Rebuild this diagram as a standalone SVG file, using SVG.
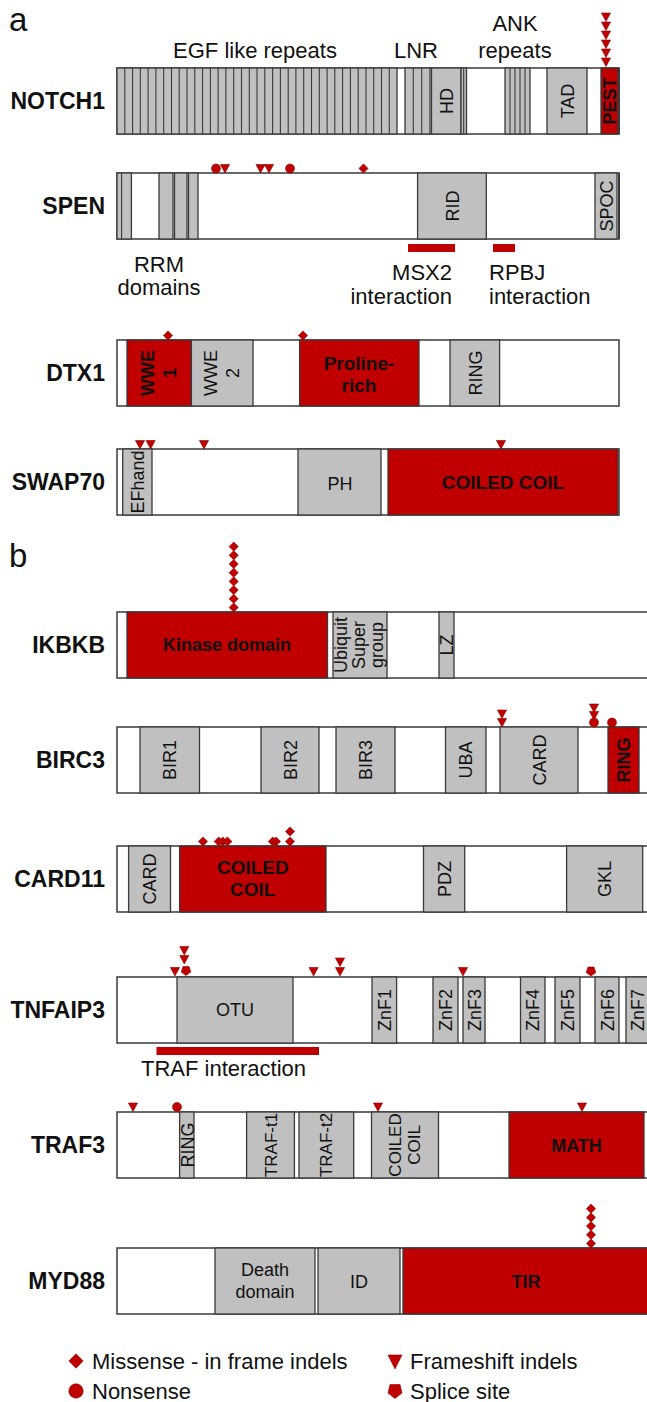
<svg xmlns="http://www.w3.org/2000/svg" xmlns:xlink="http://www.w3.org/1999/xlink" width="647" height="1402" viewBox="0 0 647 1402">
<style>
.bar{fill:#fff;stroke:#3a3a3a;stroke-width:1.5}
.g{fill:#c0c0c0;stroke:#3a3a3a;stroke-width:1.3}
.r{fill:#c00000;stroke:#3a3a3a;stroke-width:1.3}
.ln{fill:none;stroke:#3a3a3a;stroke-width:1.1}
.ib{fill:#c00000}
.m{fill:#c00000;stroke:#8a0000;stroke-width:0.6}
text{font-family:"Liberation Sans",Arial,sans-serif;fill:#111}
.lbl{font-size:23px;font-weight:bold;text-anchor:end}
.t{font-size:22px}
.d{font-size:18px}
.db{font-size:18px;font-weight:bold}
.pn{font-size:33px}
</style>
<defs>
<path id="dia" class="m" d="M0,-4.6L4.6,0L0,4.6L-4.6,0Z"/>
<path id="tri" class="m" d="M-4.6,0L4.6,0L0,8.5Z"/>
<circle id="cir" class="m" r="4.5"/>
<path id="pen" class="m" d="M0,5L4.8,1.5L3,-4L-3,-4L-4.8,1.5Z"/>
<path id="diaL" class="m" d="M0,-7.2L7.2,0L0,7.2L-7.2,0Z"/>
<path id="triL" class="m" d="M-7,-6L7,-6L0,8Z"/>
<circle id="cirL" class="m" r="7.2"/>
<path id="penL" class="m" d="M0,7.5L7,2L5,-6.5L-5,-6.5L-7,2Z"/>
</defs>
<rect width="647" height="1402" fill="#fff"/>

<text class="pn" x="9" y="31">a</text>
<text class="pn" x="9" y="567">b</text>

<g id="connectors"></g>

<!-- NOTCH1 -->
<g id="notch1">
<text class="lbl" x="105" y="109">NOTCH1</text>
<text class="t" x="255" y="58" text-anchor="middle">EGF like repeats</text>
<text class="t" x="416" y="58" text-anchor="middle">LNR</text>
<text class="t" x="515" y="31" text-anchor="middle">ANK</text>
<text class="t" x="515" y="58" text-anchor="middle">repeats</text>
<rect class="bar" x="117" y="68" width="502" height="66"/>
<rect class="g" x="117" y="68" width="280" height="66"/>
<path class="ln" d="M124.8 68V134M132.6 68V134M140.3 68V134M148.1 68V134M155.9 68V134M163.7 68V134M171.5 68V134M179.2 68V134M187 68V134M194.8 68V134M202.6 68V134M210.4 68V134M218.1 68V134M225.9 68V134M233.7 68V134M241.5 68V134M249.3 68V134M257 68V134M264.8 68V134M272.6 68V134M280.4 68V134M288.2 68V134M295.9 68V134M303.7 68V134M311.5 68V134M319.3 68V134M327.1 68V134M334.8 68V134M342.6 68V134M350.4 68V134M358.2 68V134M366 68V134M373.7 68V134M381.5 68V134M389.3 68V134"/>
<rect class="g" x="405" y="68" width="25" height="66"/>
<path class="ln" d="M413.3 68V134M421.7 68V134"/>
<rect class="g" x="431.5" y="68" width="29.5" height="66"/>
<rect class="g" x="461" y="68" width="5.5" height="66"/>
<path class="ln" d="M463.7 68V134"/>
<rect class="g" x="505" y="68" width="25" height="66"/>
<path class="ln" d="M510 68V134M515 68V134M520 68V134M525 68V134"/>
<rect class="g" x="547" y="68" width="40" height="66"/>
<rect class="r" x="601" y="68" width="17" height="66"/>
<path class="ln" d="M619 68V134" style="stroke-width:2"/>
<text class="d" text-anchor="middle" transform="translate(446,101) rotate(-90)" y="6.5">HD</text>
<text class="d" text-anchor="middle" transform="translate(567,101) rotate(-90)" y="6.5">TAD</text>
<text class="db" text-anchor="middle" transform="translate(609.5,101) rotate(-90)" y="6.5">PEST</text>
<use xlink:href="#tri" x="606" y="13"/>
<use xlink:href="#tri" x="606" y="22"/>
<use xlink:href="#tri" x="606" y="31"/>
<use xlink:href="#tri" x="606" y="40"/>
<use xlink:href="#tri" x="606" y="49"/>
<use xlink:href="#tri" x="606" y="58"/>
</g>

<!-- SPEN -->
<g id="spen">
<text class="lbl" x="105" y="214">SPEN</text>
<rect class="bar" x="117" y="173" width="502" height="66"/>
<rect class="g" x="117" y="173" width="14.4" height="66"/>
<path class="ln" d="M121.6 173V239"/>
<rect class="g" x="159" y="173" width="14" height="66"/>
<rect class="g" x="174.5" y="173" width="12.5" height="66"/>
<rect class="g" x="188.5" y="173" width="9.5" height="66"/>
<rect class="g" x="417.6" y="173" width="68.7" height="66"/>
<rect class="g" x="595" y="173" width="22" height="66"/>
<path class="ln" d="M619 173V239" style="stroke-width:2"/>
<text class="d" text-anchor="middle" transform="translate(452,206) rotate(-90)" y="6.5">RID</text>
<text class="d" text-anchor="middle" transform="translate(606,206) rotate(-90)" y="6.5">SPOC</text>
<rect class="ib" x="408" y="244" width="47" height="8"/>
<rect class="ib" x="493" y="244" width="22" height="8"/>
<text class="t" x="159" y="272" text-anchor="middle">RRM</text>
<text class="t" x="159" y="295" text-anchor="middle">domains</text>
<text class="t" x="452" y="280" text-anchor="end">MSX2</text>
<text class="t" x="452" y="304" text-anchor="end">interaction</text>
<text class="t" x="489" y="280">RPBJ</text>
<text class="t" x="489" y="304">interaction</text>
<use xlink:href="#cir" x="216" y="168.5"/>
<use xlink:href="#tri" x="225" y="164.5"/>
<use xlink:href="#tri" x="260.5" y="164.5"/>
<use xlink:href="#tri" x="269" y="164.5"/>
<use xlink:href="#cir" x="290" y="168.5"/>
<use xlink:href="#dia" x="363.5" y="168.5"/>
</g>

<!-- DTX1 -->
<g id="dtx1">
<text class="lbl" x="105" y="381">DTX1</text>
<rect class="bar" x="117" y="340" width="502" height="66"/>
<rect class="r" x="127" y="340" width="64.4" height="66"/>
<rect class="g" x="191.4" y="340" width="61.6" height="66"/>
<rect class="r" x="299.6" y="340" width="119.4" height="66"/>
<rect class="g" x="450" y="340" width="49.6" height="66"/>
<text class="db" text-anchor="middle" transform="translate(159,373) rotate(-90)"><tspan x="0" y="-5">WWE</tspan><tspan x="0" y="17">1</tspan></text>
<text class="d" text-anchor="middle" transform="translate(222,373) rotate(-90)"><tspan x="0" y="-5">WWE</tspan><tspan x="0" y="17">2</tspan></text>
<text class="db" style="font-size:19px" x="359" y="370" text-anchor="middle">Proline-</text>
<text class="db" style="font-size:19px" x="359" y="392" text-anchor="middle">rich</text>
<text class="d" text-anchor="middle" transform="translate(475,373) rotate(-90)" y="6.5">RING</text>
<use xlink:href="#dia" x="168" y="335.5"/>
<use xlink:href="#dia" x="303" y="335.5"/>
</g>

<!-- SWAP70 -->
<g id="swap70">
<text class="lbl" x="105" y="490">SWAP70</text>
<rect class="bar" x="117" y="449" width="502" height="66"/>
<rect class="g" x="122.7" y="449" width="29.3" height="66"/>
<rect class="g" x="298" y="449" width="83" height="66"/>
<rect class="r" x="388" y="449" width="230" height="66"/>
<text class="d" text-anchor="middle" transform="translate(137.5,482) rotate(-90)" y="6.5">EFhand</text>
<text class="d" x="340" y="490" text-anchor="middle">PH</text>
<text class="db" style="font-size:19px" x="503" y="489" text-anchor="middle">COILED COIL</text>
<use xlink:href="#tri" x="140" y="440.5"/>
<use xlink:href="#tri" x="150.6" y="440.5"/>
<use xlink:href="#tri" x="204" y="440.5"/>
<use xlink:href="#tri" x="501" y="440.5"/>
</g>

<!-- IKBKB -->
<g id="ikbkb">
<text class="lbl" x="105" y="653">IKBKB</text>
<rect class="bar" x="117" y="612" width="540" height="66"/>
<rect class="r" x="127" y="612" width="200.5" height="66"/>
<rect class="g" x="333" y="612" width="54" height="66"/>
<rect class="g" x="439" y="612" width="15" height="66"/>
<text class="db" x="227" y="651" text-anchor="middle">Kinase domain</text>
<text class="d" text-anchor="middle" transform="translate(360,645) rotate(-90)"><tspan x="0" y="-13">Ubiquit</tspan><tspan x="0" y="5">Super</tspan><tspan x="0" y="23">group</tspan></text>
<text class="d" text-anchor="middle" transform="translate(446.5,645) rotate(-90)" y="6.5">LZ</text>
<use xlink:href="#dia" x="233.7" y="607.5"/>
<use xlink:href="#dia" x="233.7" y="598.8"/>
<use xlink:href="#dia" x="233.7" y="590.1"/>
<use xlink:href="#dia" x="233.7" y="581.4"/>
<use xlink:href="#dia" x="233.7" y="572.7"/>
<use xlink:href="#dia" x="233.7" y="564"/>
<use xlink:href="#dia" x="233.7" y="555.3"/>
<use xlink:href="#dia" x="233.7" y="546.6"/>
</g>

<!-- BIRC3 -->
<g id="birc3">
<text class="lbl" x="105" y="768">BIRC3</text>
<rect class="bar" x="117" y="727" width="540" height="66"/>
<rect class="g" x="140" y="727" width="59.5" height="66"/>
<rect class="g" x="261" y="727" width="58" height="66"/>
<rect class="g" x="336" y="727" width="59" height="66"/>
<rect class="g" x="445.5" y="727" width="40.5" height="66"/>
<rect class="g" x="500" y="727" width="78" height="66"/>
<rect class="r" x="608" y="727" width="31" height="66"/>
<text class="d" text-anchor="middle" transform="translate(169.7,760) rotate(-90)" y="6.5">BIR1</text>
<text class="d" text-anchor="middle" transform="translate(290,760) rotate(-90)" y="6.5">BIR2</text>
<text class="d" text-anchor="middle" transform="translate(365.5,760) rotate(-90)" y="6.5">BIR3</text>
<text class="d" text-anchor="middle" transform="translate(465.7,760) rotate(-90)" y="6.5">UBA</text>
<text class="d" text-anchor="middle" transform="translate(539,760) rotate(-90)" y="6.5">CARD</text>
<text class="db" text-anchor="middle" transform="translate(623.5,760) rotate(-90)" y="6.5">RING</text>
<use xlink:href="#tri" x="502" y="710"/>
<use xlink:href="#tri" x="502" y="718.5"/>
<use xlink:href="#tri" x="594" y="704"/>
<use xlink:href="#tri" x="594" y="711.5"/>
<use xlink:href="#cir" x="594" y="722.5"/>
<use xlink:href="#cir" x="612" y="722.5"/>
</g>

<!-- CARD11 -->
<g id="card11">
<text class="lbl" x="105" y="887">CARD11</text>
<rect class="bar" x="117" y="846" width="540" height="66"/>
<rect class="g" x="128.6" y="846" width="41.9" height="66"/>
<rect class="r" x="179.6" y="846" width="146.4" height="66"/>
<rect class="g" x="423.5" y="846" width="41.2" height="66"/>
<rect class="g" x="566.6" y="846" width="76.1" height="66"/>
<text class="d" text-anchor="middle" transform="translate(149.5,879) rotate(-90)" y="6.5">CARD</text>
<text class="db" style="font-size:19px" x="252.8" y="874" text-anchor="middle">COILED</text>
<text class="db" style="font-size:19px" x="252.8" y="896" text-anchor="middle">COIL</text>
<text class="d" text-anchor="middle" transform="translate(444,879) rotate(-90)" y="6.5">PDZ</text>
<text class="d" text-anchor="middle" transform="translate(604.6,879) rotate(-90)" y="6.5">GKL</text>
<use xlink:href="#dia" x="203" y="841.5"/>
<use xlink:href="#dia" x="218.7" y="841.5"/>
<use xlink:href="#dia" x="222.8" y="841.5"/>
<use xlink:href="#dia" x="227.4" y="841.5"/>
<use xlink:href="#dia" x="272.8" y="841.5"/>
<use xlink:href="#dia" x="276" y="841.5"/>
<use xlink:href="#dia" x="290" y="841.5"/>
<use xlink:href="#dia" x="290" y="831.5"/>
</g>

<!-- TNFAIP3 -->
<g id="tnfaip3">
<text class="lbl" x="105" y="1018">TNFAIP3</text>
<rect class="bar" x="117" y="977" width="540" height="66"/>
<rect class="g" x="177" y="977" width="116" height="66"/>
<rect class="g" x="372" y="977" width="24.6" height="66"/>
<rect class="g" x="433" y="977" width="25" height="66"/>
<rect class="g" x="463" y="977" width="22" height="66"/>
<rect class="g" x="520.5" y="977" width="24.5" height="66"/>
<rect class="g" x="555" y="977" width="25" height="66"/>
<rect class="g" x="595" y="977" width="24" height="66"/>
<rect class="g" x="626" y="977" width="30" height="66"/>
<text class="d" x="235" y="1016" text-anchor="middle">OTU</text>
<text class="d" text-anchor="middle" transform="translate(384.3,1010) rotate(-90)" y="6.5">ZnF1</text>
<text class="d" text-anchor="middle" transform="translate(445.5,1010) rotate(-90)" y="6.5">ZnF2</text>
<text class="d" text-anchor="middle" transform="translate(474,1010) rotate(-90)" y="6.5">ZnF3</text>
<text class="d" text-anchor="middle" transform="translate(532.7,1010) rotate(-90)" y="6.5">ZnF4</text>
<text class="d" text-anchor="middle" transform="translate(567.5,1010) rotate(-90)" y="6.5">ZnF5</text>
<text class="d" text-anchor="middle" transform="translate(607,1010) rotate(-90)" y="6.5">ZnF6</text>
<text class="d" text-anchor="middle" transform="translate(637,1010) rotate(-90)" y="6.5">ZnF7</text>
<rect class="ib" x="156.5" y="1047" width="162.5" height="8"/>
<text class="t" x="141" y="1076">TRAF interaction</text>
<use xlink:href="#tri" x="175" y="967.5"/>
<use xlink:href="#tri" x="184.3" y="946.5"/>
<use xlink:href="#tri" x="184.3" y="955.5"/>
<use xlink:href="#pen" x="186" y="970.5"/>
<use xlink:href="#tri" x="313.6" y="967.5"/>
<use xlink:href="#tri" x="340" y="958"/>
<use xlink:href="#tri" x="340" y="967.5"/>
<use xlink:href="#tri" x="463" y="967.5"/>
<use xlink:href="#pen" x="591" y="971"/>
</g>

<!-- TRAF3 -->
<g id="traf3">
<text class="lbl" x="105" y="1153">TRAF3</text>
<rect class="bar" x="117" y="1112" width="540" height="66"/>
<rect class="g" x="179.6" y="1112" width="14.4" height="66"/>
<rect class="g" x="246.6" y="1112" width="47.8" height="66"/>
<rect class="g" x="299" y="1112" width="54.7" height="66"/>
<rect class="g" x="371.5" y="1112" width="67" height="66"/>
<rect class="r" x="509" y="1112" width="135" height="66"/>
<text class="d" text-anchor="middle" transform="translate(187,1145) rotate(-90)" y="6.5">RING</text>
<text class="d" style="font-size:17px" text-anchor="middle" transform="translate(270.5,1145) rotate(-90)" y="6">TRAF-t1</text>
<text class="d" style="font-size:17px" text-anchor="middle" transform="translate(326.3,1145) rotate(-90)" y="6">TRAF-t2</text>
<text class="d" style="font-size:17px" text-anchor="middle" transform="translate(405,1145) rotate(-90)"><tspan x="0" y="-4">COILED</tspan><tspan x="0" y="15">COIL</tspan></text>
<text class="db" x="576.5" y="1152" text-anchor="middle">MATH</text>
<use xlink:href="#tri" x="133" y="1103"/>
<use xlink:href="#cir" x="177" y="1107"/>
<use xlink:href="#tri" x="378" y="1103"/>
<use xlink:href="#tri" x="582" y="1103"/>
</g>

<!-- MYD88 -->
<g id="myd88">
<text class="lbl" x="105" y="1289">MYD88</text>
<rect class="bar" x="117" y="1248" width="540" height="66"/>
<rect class="g" x="215" y="1248" width="100" height="66"/>
<rect class="g" x="318" y="1248" width="82" height="66"/>
<rect class="r" x="403" y="1248" width="260" height="66"/>
<text class="d" x="265" y="1276" text-anchor="middle">Death</text>
<text class="d" x="265" y="1298" text-anchor="middle">domain</text>
<text class="d" x="359" y="1288" text-anchor="middle">ID</text>
<text class="db" x="526" y="1288" text-anchor="middle">TIR</text>
<use xlink:href="#dia" x="591" y="1243.5"/>
<use xlink:href="#dia" x="591" y="1234.8"/>
<use xlink:href="#dia" x="591" y="1226.1"/>
<use xlink:href="#dia" x="591" y="1217.4"/>
<use xlink:href="#dia" x="591" y="1208.7"/>
</g>

<!-- Legend -->
<g id="legend">
<use xlink:href="#diaL" x="76" y="1361"/>
<text class="t" x="92" y="1369">Missense - in frame indels</text>
<use xlink:href="#cirL" x="76" y="1391"/>
<text class="t" x="92" y="1399">Nonsense</text>
<use xlink:href="#triL" x="395" y="1361"/>
<text class="t" x="410" y="1369">Frameshift indels</text>
<use xlink:href="#penL" x="395" y="1391"/>
<text class="t" x="410" y="1399">Splice site</text>
</g>
</svg>
